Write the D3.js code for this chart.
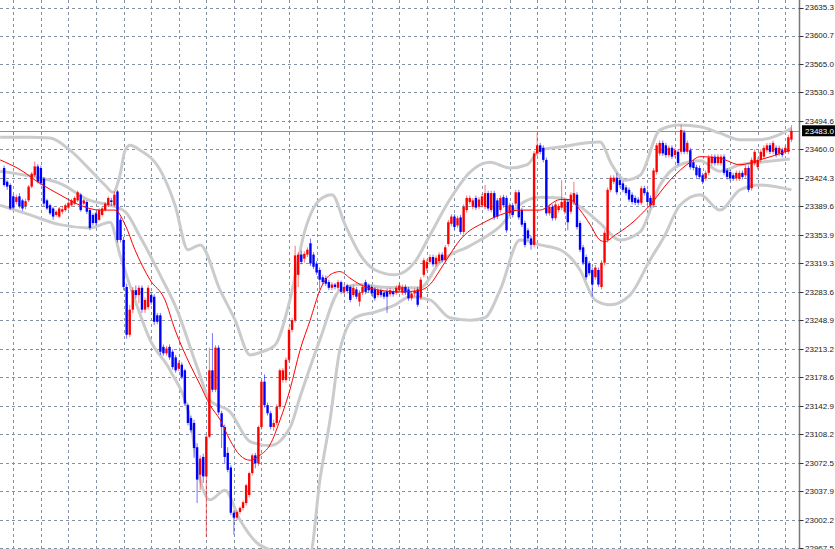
<!DOCTYPE html>
<html><head><meta charset="utf-8">
<script src="https://cdn.jsdelivr.net/npm/d3@7"></script>
<style>html,body{margin:0;padding:0;background:#fff;overflow:hidden}</style>
</head><body>
<svg id="c" width="835" height="549"></svg>
<script>
const yTickLabels = [23635.3,23600.7,23565.0,23530.3,23494.6,23460.0,23424.3,23389.6,23353.9,23319.3,23283.6,23248.9,23213.2,23178.6,23142.9,23108.2,23072.5,23037.9,23002.2,22967.5];
const lastPrice = 23483.0;
const opens = [23437,23420,23416,23402,23395,23402,23397,23390,23397,23414,
23428,23439,23437,23424,23397,23391,23387,23379,23377,23383,
23385,23388,23391,23393,23397,23404,23393,23395,23385,23379,
23381,23373,23379,23385,23391,23397,23391,23408,23373,23348,
23290,23231,23262,23286,23280,23289,23262,23265,23280,23278,
23255,23255,23216,23208,23216,23210,23203,23189,23194,23187,
23144,23128,23122,23092,23058,23080,23056,23105,23187,23163,
23215,23134,23117,23085,23067,23011,23005,23012,23017,23023,
23033,23060,23082,23072,23117,23173,23144,23134,23117,23122,
23142,23175,23175,23200,23237,23249,23305,23330,23325,23330,
23344,23330,23319,23311,23302,23301,23296,23289,23293,23289,
23296,23284,23292,23290,23280,23287,23272,23283,23296,23292,
23290,23288,23280,23286,23283,23285,23281,23285,23283,23286,
23283,23290,23287,23276,23282,23287,23277,23305,23313,23321,
23327,23318,23322,23330,23323,23343,23368,23377,23366,23376,
23358,23385,23395,23389,23400,23389,23391,23389,23406,23385,
23406,23397,23385,23401,23400,23381,23391,23393,23407,23385,
23369,23360,23350,23342,23455,23465,23462,23447,23381,23389,
23375,23385,23388,23383,23395,23383,23395,23404,23369,23339,
23327,23319,23311,23302,23311,23290,23320,23348,23410,23420,
23425,23422,23418,23413,23410,23404,23400,23398,23394,23412,
23407,23400,23391,23432,23455,23468,23465,23453,23462,23453,
23457,23457,23481,23457,23459,23444,23438,23437,23428,23424,
23431,23443,23451,23443,23443,23451,23434,23432,23428,23424,
23424,23431,23428,23437,23412,23443,23438,23447,23451,23459,
23465,23457,23462,23455,23459,23457,23457,23472];
const highs = [23440,23422,23418,23404,23404,23406,23399,23399,23416,23432,
23445,23442,23440,23426,23399,23393,23389,23385,23389,23390,
23393,23396,23399,23402,23409,23406,23399,23397,23387,23381,
23383,23387,23389,23395,23402,23400,23408,23410,23376,23352,
23294,23268,23290,23292,23292,23292,23277,23292,23284,23281,
23258,23258,23219,23217,23219,23213,23206,23199,23197,23189,
23146,23131,23126,23097,23082,23084,23107,23215,23233,23218,
23218,23137,23120,23092,23070,23014,23014,23019,23026,23047,
23062,23084,23085,23119,23175,23182,23147,23137,23126,23145,
23189,23190,23203,23240,23252,23341,23333,23335,23334,23339,
23350,23333,23322,23314,23305,23304,23299,23296,23295,23299,
23298,23293,23294,23292,23292,23290,23286,23293,23299,23294,
23292,23290,23289,23288,23285,23288,23289,23287,23292,23295,
23293,23293,23290,23285,23288,23290,23302,23326,23324,23330,
23330,23329,23333,23333,23342,23373,23380,23380,23378,23379,
23392,23403,23403,23400,23403,23401,23405,23416,23409,23409,
23409,23400,23403,23404,23403,23394,23394,23410,23410,23388,
23372,23363,23353,23458,23480,23468,23465,23450,23392,23392,
23395,23393,23422,23400,23398,23407,23420,23407,23372,23342,
23330,23322,23314,23317,23314,23323,23360,23413,23428,23428,
23431,23425,23421,23416,23413,23407,23403,23401,23415,23415,
23410,23403,23437,23468,23471,23471,23468,23465,23465,23462,
23460,23490,23484,23471,23462,23447,23441,23440,23431,23434,
23453,23454,23454,23454,23454,23454,23437,23435,23431,23434,
23434,23434,23440,23440,23450,23460,23450,23460,23465,23468,
23468,23471,23465,23465,23462,23465,23478,23490];
const lows = [23414,23410,23385,23386,23392,23387,23384,23386,23395,23412,
23426,23418,23416,23390,23385,23379,23373,23377,23375,23380,
23383,23386,23389,23391,23395,23383,23391,23380,23360,23366,
23366,23371,23377,23383,23389,23390,23389,23345,23345,23286,
23226,23228,23258,23276,23270,23258,23258,23262,23268,23243,
23244,23206,23205,23205,23200,23188,23184,23186,23176,23143,
23119,23110,23079,23023,23039,23048,22981,23103,23160,23160,
23132,23091,23072,23061,23008,22984,23002,23009,23014,23020,
23030,23057,23066,23069,23114,23141,23131,23114,23112,23119,
23139,23172,23172,23197,23234,23246,23290,23318,23320,23327,
23316,23312,23305,23287,23293,23291,23286,23286,23287,23286,
23281,23281,23282,23271,23277,23275,23266,23280,23281,23283,
23279,23273,23277,23277,23275,23258,23278,23278,23280,23283,
23280,23280,23273,23273,23278,23265,23274,23302,23310,23318,
23315,23315,23319,23320,23320,23340,23365,23361,23363,23355,
23355,23382,23392,23386,23385,23386,23388,23386,23384,23382,
23373,23374,23382,23388,23357,23378,23376,23390,23373,23364,
23339,23347,23336,23339,23452,23454,23444,23378,23378,23372,
23372,23382,23385,23380,23360,23380,23392,23361,23333,23317,
23299,23304,23278,23299,23290,23287,23317,23345,23407,23417,
23404,23413,23407,23403,23395,23392,23391,23391,23391,23403,
23392,23388,23388,23429,23452,23452,23450,23450,23448,23450,
23440,23454,23454,23454,23435,23434,23425,23423,23417,23421,
23428,23440,23440,23440,23440,23428,23423,23421,23421,23421,
23421,23423,23425,23407,23409,23440,23435,23444,23448,23456,
23454,23454,23450,23452,23450,23454,23454,23469];
const closes = [23416,23414,23387,23388,23401,23390,23387,23396,23414,23430,
23439,23420,23418,23393,23387,23381,23377,23383,23387,23386,
23391,23394,23397,23400,23407,23385,23397,23383,23363,23369,
23369,23385,23387,23393,23400,23395,23404,23348,23348,23290,
23231,23262,23286,23280,23289,23262,23274,23289,23271,23247,
23247,23210,23208,23214,23203,23191,23187,23196,23179,23146,
23122,23113,23091,23052,23078,23056,23105,23187,23163,23215,
23135,23117,23080,23064,23011,23005,23012,23017,23024,23045,
23060,23082,23072,23117,23173,23144,23134,23117,23122,23142,
23187,23187,23200,23237,23249,23329,23330,23321,23331,23336,
23319,23315,23308,23299,23296,23294,23289,23293,23290,23296,
23284,23290,23285,23274,23289,23278,23283,23290,23284,23286,
23282,23276,23286,23280,23278,23278,23286,23281,23289,23292,
23290,23283,23276,23282,23285,23268,23299,23323,23321,23327,
23318,23326,23330,23323,23339,23370,23377,23364,23375,23358,
23389,23400,23400,23397,23388,23398,23402,23406,23387,23406,
23376,23377,23400,23391,23360,23391,23379,23407,23376,23367,
23342,23350,23342,23455,23465,23457,23447,23381,23389,23375,
23392,23390,23395,23397,23370,23404,23406,23364,23336,23320,
23302,23307,23293,23314,23293,23320,23357,23410,23425,23425,
23407,23416,23410,23406,23398,23395,23394,23394,23412,23406,
23395,23391,23434,23465,23468,23455,23453,23462,23451,23459,
23443,23484,23457,23468,23438,23437,23428,23426,23420,23431,
23450,23451,23443,23451,23451,23431,23426,23424,23424,23431,
23431,23426,23437,23410,23447,23457,23447,23457,23462,23465,
23457,23468,23453,23462,23453,23462,23475,23483];

const upIdx = [-1.3,8.5,15,21.5,28,32.9,35.5,37.8,39.5,41.1,44.4,50.9,55.8,60,64,70.5,75.4,80.3,84.2,88.4,93.3,98.2,103.1,107,111.3,116.2,121.1,127.6,134.1,139,145.5,152.1,158.6,165.1,170.7,174.9,181.5,194.5,198.4,202.7,207.6,214.1,220.6,227.2,233.7,240.2,246.7,257];
const upperBand = [23475,23475,23474,23459,23435,23416,23407,23428,23459,23465,23459,23435,23391,23336,23342,23286,23249,23206,23210,23218,23274,23360,23398,23404,23367,23330,23311,23305,23321,23354,23398,23432,23444,23437,23441,23459,23463,23469,23441,23422,23428,23484,23490,23488,23480,23472,23472,23486];
const midIdx = [-1.3,8.5,18.2,28,34.6,39.5,44.4,50.9,56.4,63,67.2,73.7,80.3,86.8,93.3,96.6,103.1,109.6,116.2,122.7,129.2,135.8,142.3,152.1,161.9,168.4,174.9,181.5,188,194.5,201,207.6,214.1,220.6,227.2,233.7,240.2,246.7,256.5];
const midBand = [23433,23427,23418,23397,23391,23383,23352,23305,23262,23191,23150,23136,23099,23094,23116,23154,23225,23286,23293,23290,23289,23289,23321,23341,23365,23392,23401,23400,23389,23369,23348,23358,23416,23441,23446,23433,23441,23444,23448];
const lowIdx = [-1.3,8.5,18.2,28,34.6,37.8,42.7,47.6,54.2,60.7,64,67.2,72.1,77,83.5,91.7,99.9,103.1,106.4,109.6,114.5,121.1,127.6,132.5,139,145.5,152.1,156.9,161.9,168.4,174.9,181.5,188,192.9,197.8,204.3,210.8,215.7,220.6,227.2,233.7,240.2,246.7,257];
const lowerBand = [23391,23379,23367,23363,23370,23330,23274,23225,23187,23126,23052,23027,23039,23002,22971,22962,22962,23052,23126,23212,23252,23259,23268,23278,23274,23252,23249,23252,23286,23348,23342,23336,23311,23274,23268,23280,23323,23354,23391,23404,23385,23410,23416,23410];
const maIdx = [-1.3,5.2,11.7,18.2,24.8,31.3,36.2,39.5,42.7,47.6,52.5,55.8,60.7,64,67.2,70.5,73.7,77,80.3,83.5,86.8,90.1,93.3,96.6,99.9,103.1,106.4,109.6,112.9,116.2,122.7,129.2,135.8,139,142.3,145.5,148.8,152.1,155.3,161.9,168.4,174.9,181.5,184.7,188,191.3,194.5,196.1,199.4,204.3,210.8,217.4,223.9,227.2,233.7,240.2,246.7,256.5];
const maValues = [23447,23435,23418,23404,23391,23385,23385,23367,23336,23299,23274,23237,23194,23169,23144,23126,23101,23082,23076,23082,23095,23126,23163,23212,23249,23286,23305,23309,23301,23293,23286,23284,23286,23293,23311,23330,23348,23360,23367,23379,23385,23385,23398,23398,23385,23367,23348,23346,23354,23367,23391,23422,23444,23451,23449,23441,23447,23459];

const W = 835, H = 549, axisX = 799.5;
const svg = d3.select('#c');
const n = closes.length;
const x = d3.scaleLinear().domain([0, 257]).range([4.11, 791.43]);
const y = d3.scaleLinear().domain([22967.5, 23635.3]).range([548, 7.5]);

svg.append('clipPath').attr('id','clip').append('rect').attr('x',0).attr('y',0).attr('width',axisX).attr('height',H);
const gc = svg.append('g').attr('clip-path','url(#clip)');

// grid
const gridColor = '#8492a3';
gc.selectAll('line.hg').data(yTickLabels).join('line').attr('class','hg')
  .attr('x1',0).attr('x2',axisX).attr('y1',d=>Math.round(y(d))+0.5).attr('y2',d=>Math.round(y(d))+0.5)
  .attr('stroke',gridColor).attr('stroke-dasharray','3,3').attr('stroke-width',1);
const vIdx = d3.range(3, n, 9);
gc.selectAll('line.vg').data(vIdx).join('line').attr('class','vg')
  .attr('y1',0).attr('y2',H).attr('x1',d=>Math.round(x(d))+0.5).attr('x2',d=>Math.round(x(d))+0.5)
  .attr('stroke',gridColor).attr('stroke-dasharray','3,3').attr('stroke-width',1);

// bid line
gc.append('line').attr('x1',0).attr('x2',axisX).attr('y1',Math.round(y(lastPrice))+0.5).attr('y2',Math.round(y(lastPrice))+0.5)
  .attr('stroke','#8593a6').attr('stroke-width',1);

// bollinger bands
const line = d3.line().curve(d3.curveMonotoneX);
function band(idx, vals){ return line(idx.map((d,i)=>[x(d), y(vals[i])])); }
[[upIdx,upperBand],[midIdx,midBand],[lowIdx,lowerBand]].forEach(([a,b])=>{
  gc.append('path').attr('d', band(a,b)).attr('fill','none').attr('stroke','#cbcbcb').attr('stroke-width',3).attr('stroke-linejoin','round');
});

// candles
const bw = 2.4;
const cg = gc.append('g');
closes.forEach((c,i)=>{
  const o = opens[i], up = c >= o;
  const col = up ? '#ff0000' : '#0000ff';
  const cx = x(i);
  cg.append('line').attr('x1',cx).attr('x2',cx).attr('y1',y(highs[i])).attr('y2',y(lows[i]))
    .attr('stroke',col).attr('stroke-width',1).attr('stroke-opacity',0.55);
  const top = y(Math.max(o,c)), bot = y(Math.min(o,c));
  cg.append('rect').attr('x',cx-bw/2).attr('y',top).attr('width',bw).attr('height',Math.max(1,bot-top)).attr('fill',col);
});

// moving average
gc.append('path').attr('d', band(maIdx, maValues)).attr('fill','none').attr('stroke','#ff0000').attr('stroke-width',1);

// price axis
svg.append('line').attr('x1',axisX).attr('x2',axisX).attr('y1',0).attr('y2',H).attr('stroke','#777').attr('stroke-width',1.5);
const ag = svg.append('g');
ag.selectAll('line').data(yTickLabels).join('line')
  .attr('x1',axisX).attr('x2',axisX+4).attr('y1',d=>Math.round(y(d))+0.5).attr('y2',d=>Math.round(y(d))+0.5)
  .attr('stroke','#333');
ag.selectAll('text').data(yTickLabels).join('text')
  .attr('x',805).attr('y',d=>y(d)).attr('dy','0.35em')
  .attr('font-family','Liberation Sans, Arial, sans-serif').attr('font-size','8px').attr('fill','#222')
  .text(d=>d.toFixed(1));
const ly = y(lastPrice);
svg.append('rect').attr('x',802).attr('y',ly-5.5).attr('width',33).attr('height',11).attr('fill','#000');
svg.append('text').attr('x',805).attr('y',ly).attr('dy','0.35em')
  .attr('font-family','Liberation Sans, Arial, sans-serif').attr('font-size','8px').attr('fill','#fff')
  .text(lastPrice.toFixed(1));
</script>
</body></html>
